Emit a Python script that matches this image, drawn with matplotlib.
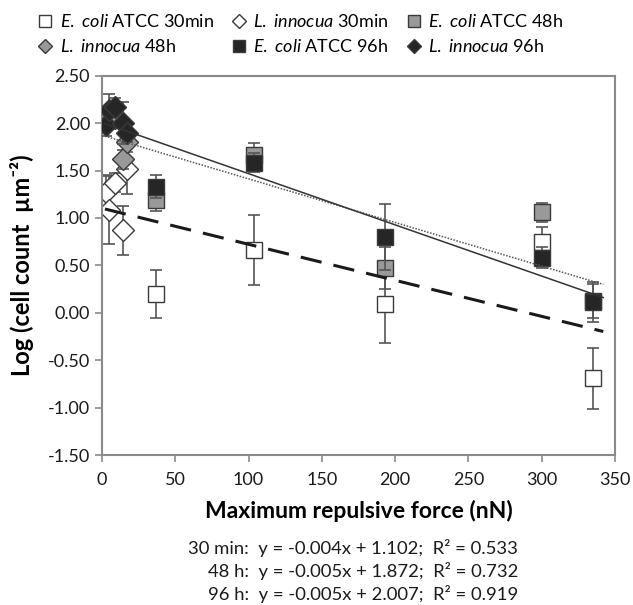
import matplotlib
matplotlib.use("Agg")
import matplotlib.pyplot as plt
from matplotlib.lines import Line2D
import numpy as np

plt.rcParams['font.family'] = ['Lato', 'DejaVu Sans']
plt.rcParams['mathtext.fontset'] = 'custom'
plt.rcParams['mathtext.rm'] = 'Lato'
plt.rcParams['mathtext.it'] = 'Lato:italic'
plt.rcParams['mathtext.bf'] = 'Lato:bold'

# ---- data ----
ecoli_x = [37, 104, 193, 300, 335]
ecoli_30 = [0.20, 0.66, 0.09, 0.75, -0.69]
ecoli_30_err = [0.25, 0.37, 0.41, 0.15, 0.32]
ecoli_48 = [1.19, 1.66, 0.47, 1.06, 0.12]
ecoli_48_err = [0.12, 0.13, 0.22, 0.10, 0.18]
ecoli_96 = [1.33, 1.58, 0.80, 0.58, 0.11]
ecoli_96_err = [0.12, 0.10, 0.35, 0.11, 0.21]

linn_x = [3, 5, 9, 14, 17]
linn_30 = [1.27, 1.08, 1.37, 0.87, 1.52]
linn_30_err = [0.18, 0.36, 0.10, 0.26, 0.27]
linn_48 = [2.02, 2.07, 2.05, 1.62, 1.80]
linn_48_err = [0.10, 0.10, 0.10, 0.10, 0.10]
linn_96 = [1.98, 2.14, 2.17, 2.00, 1.90]
linn_96_err = [0.12, 0.17, 0.10, 0.22, 0.10]

fit_labels = ["30 min", "48 h", "96 h"]
fit_slopes = [-0.0038, -0.0046, -0.0054]
fit_intercepts = [1.102, 1.872, 2.007]
eq_text = ["30 min:  y = -0.004x + 1.102;  R\u00b2 = 0.533",
           "48 h:  y = -0.005x + 1.872;  R\u00b2 = 0.732",
           "96 h:  y = -0.005x + 2.007;  R\u00b2 = 0.919"]

xticks = [0, 50, 100, 150, 200, 250, 300, 350]
yticks = [-1.5, -1.0, -0.5, 0.0, 0.5, 1.0, 1.5, 2.0, 2.5]

# ---- figure ----
fig = plt.figure(figsize=(6.33, 6.05), dpi=100)
ax = fig.add_axes([102/633, 1-455/605, (615-102)/633, (455-75.7)/605])

white, gray, black = "#ffffff", "#999999", "#262626"
edge = "#3a3a3a"
ecol = "#555555"

def series(x, y, e, marker, fc, ms, z):
    ax.errorbar(x, y, yerr=e, fmt='none', ecolor=ecol, elinewidth=1.2,
                capsize=4, capthick=1.2, zorder=z)
    ax.plot(x, y, linestyle='none', marker=marker, ms=ms, mfc=fc, mec=edge,
            mew=1.0, zorder=z + 0.5)

series(ecoli_x, ecoli_30, ecoli_30_err, 's', white, 11, 2)
series(ecoli_x, ecoli_48, ecoli_48_err, 's', gray, 11, 3)
series(ecoli_x, ecoli_96, ecoli_96_err, 's', black, 11, 4)
series(linn_x, linn_30, linn_30_err, 'D', white, 11.5, 2)
series(linn_x, linn_48, linn_48_err, 'D', gray, 11.5, 3)
series(linn_x, linn_96, linn_96_err, 'D', black, 11.5, 4)

# trend lines
xl = np.array([2, 342])
styles = [dict(ls=(0, (7, 4)), lw=2.2, color='#1a1a1a'),
          dict(ls=(0, (1, 1)), lw=1.1, color='#555555'),
          dict(ls='-', lw=1.1, color='#333333')]
for m, b, st in zip(fit_slopes, fit_intercepts, styles):
    ax.plot(xl, m * xl + b, zorder=6, **st)

ax.set_xlim(0, 350)
ax.set_ylim(-1.5, 2.5)
ax.set_xticks(xticks)
ax.set_yticks(yticks)
ax.set_yticklabels([f"{v:.2f}" for v in yticks])
for s in ax.spines.values():
    s.set_color('#8a8a8a')
    s.set_linewidth(1.5)
ax.tick_params(axis='both', direction='out', length=5, width=1.2,
               color='#8a8a8a', labelsize=13, labelcolor='#1a1a1a')
ax.tick_params(axis='x', pad=7)

ax.set_xlabel("Maximum repulsive force (nN)", fontsize=16.5, fontweight='bold',
              labelpad=9)
ax.set_ylabel("Log (cell count  \u00b5m\u207b\u00b2)", fontsize=17,
              fontweight='bold', labelpad=10)

# legend
handles = [
    Line2D([], [], ls='none', marker='s', ms=8, mfc=white, mec=edge),
    Line2D([], [], ls='none', marker='D', ms=7, mfc=white, mec=edge),
    Line2D([], [], ls='none', marker='s', ms=8, mfc=gray, mec=edge),
    Line2D([], [], ls='none', marker='D', ms=7, mfc=gray, mec=edge),
    Line2D([], [], ls='none', marker='s', ms=8, mfc=black, mec=edge),
    Line2D([], [], ls='none', marker='D', ms=7, mfc=black, mec=edge),
]
labels = [r"$\it{E.\ coli}$ ATCC 30min", r"$\it{L.\ innocua}$ 30min",
          r"$\it{E.\ coli}$ ATCC 48h", r"$\it{L.\ innocua}$ 48h",
          r"$\it{E.\ coli}$ ATCC 96h", r"$\it{L.\ innocua}$ 96h"]
order = [0, 3, 1, 4, 2, 5]
fig.legend([handles[i] for i in order], [labels[i] for i in order],
           loc='upper center', bbox_to_anchor=(0.475, 1.005), ncol=3,
           frameon=False, fontsize=13, handlelength=0.8, handletextpad=0.4,
           columnspacing=1.0, labelspacing=0.45)

for i, t in enumerate(eq_text):
    fig.text(518/633, 1 - (548 + 23 * i)/605, t, ha='right', va='center',
             fontsize=13.3, color='#1a1a1a')

fig.savefig("out.png", dpi=100, facecolor='white')
